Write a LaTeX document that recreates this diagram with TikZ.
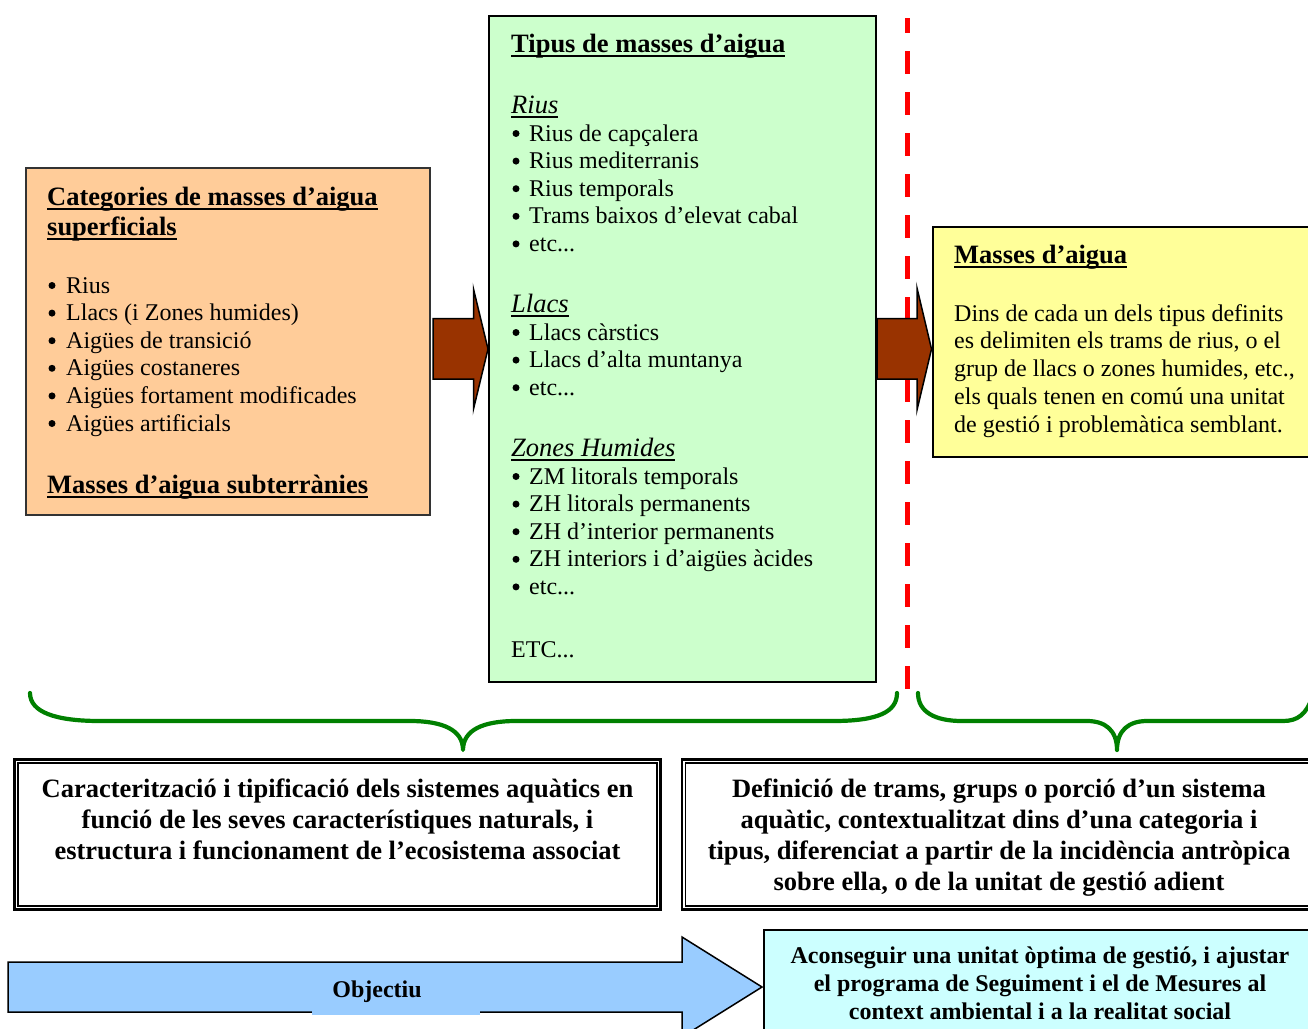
\documentclass[tikz,border=0pt]{standalone}
\usepackage{fontspec}
\setmainfont{Liberation Serif}
\newsavebox\ulbox
\newcommand\ulx[1]{\sbox\ulbox{#1}\rlap{\rule[-5pt]{\wd\ulbox}{2pt}}\usebox\ulbox}
\newcommand\etcdots{etc...}
\definecolor{orangefill}{HTML}{FFCC99}
\definecolor{greenfill}{HTML}{CCFFCC}
\definecolor{yellowfill}{HTML}{FFFF99}
\definecolor{cyanfill}{HTML}{CCFFFF}
\definecolor{bluefill}{HTML}{99CCFF}
\definecolor{brownfill}{HTML}{993300}
\definecolor{bracegreen}{HTML}{008000}
\tikzset{
  boxnode/.style={rectangle, draw=black, line width=1.5pt, inner sep=0pt, outer sep=0pt},
  txt/.style={anchor=base west, inner sep=0pt, font=\fontsize{24}{27.6}\selectfont},
  bulnode/.style={circle, fill=black, inner sep=0pt, minimum size=7pt},
  ttl/.style={anchor=base west, inner sep=0pt, font=\fontsize{26.5}{30}\selectfont\bfseries},
  sub/.style={anchor=base west, inner sep=0pt, font=\fontsize{26.5}{30}\selectfont\itshape},
  bigbold/.style={anchor=base, inner sep=0pt, font=\fontsize{26.5}{31}\selectfont\bfseries},
  smallbold/.style={anchor=base, inner sep=0pt, font=\fontsize{24}{28}\selectfont\bfseries},
  bracepath/.style={draw=bracegreen, line width=4.2pt, line cap=round, line join=round},
  fatarrow/.style={draw=black, line width=1.5pt, line join=miter}
}
\begin{document}
\begin{tikzpicture}[x=1pt,y=-1pt]
\useasboundingbox (0,0) rectangle (1308,1028);
\clip (0,0) rectangle (1308,1028);
\fill[white] (0,0) rectangle (1308,1028);

% red dashed separator
\draw[red, line width=5pt, dash pattern=on 23pt off 18pt, dash phase=8pt] (907,18) -- (907,695);

% main boxes
\node[boxnode, draw=black!80, fill=orangefill, minimum width=404pt, minimum height=347pt] (cat) at (228,341.5) {};
\node[boxnode, fill=greenfill, minimum width=387pt, minimum height=666pt] (tip) at (682.5,349) {};
\node[boxnode, fill=yellowfill, minimum width=387pt, minimum height=230pt] (mas) at (1126.5,342) {};

% brown arrows
\draw[fatarrow, fill=brownfill] (433,318.5) -- (473.5,318.5) -- (473.5,289) -- (488,349) -- (473.5,409) -- (473.5,379) -- (433,379) -- cycle;
\draw[fatarrow, fill=brownfill] (877,318.5) -- (917,318.5) -- (917,288) -- (931.5,349) -- (917,410) -- (917,379) -- (877,379) -- cycle;

% orange box text
\node[ttl] (cat1) at (47,205) {\ulx{Categories de masses d’aigua}};
\node[ttl] (cat2) at (47,235) {\ulx{superficials}};
\foreach \t [count=\i from 0] in {Rius, Llacs (i Zones humides), Aigües de transició, Aigües costaneres, Aigües fortament modificades, Aigües artificials}{
  \node[bulnode] at (52,285.5+27.6*\i) {};
  \node[txt] at (66,293+27.6*\i) {\t};
}
\node[ttl] (cat3) at (47,493) {\ulx{Masses d’aigua subterrànies}};

% green box text
\node[ttl] (tip1) at (511,52) {\ulx{Tipus de masses d’aigua}};
\node[sub] (rius) at (511,113) {\ulx{Rius}};
\foreach \t [count=\i from 0] in {Rius de capçalera, Rius mediterranis, Rius temporals, Trams baixos d’elevat cabal, \etcdots}{
  \node[bulnode] at (516,133.5+27.6*\i) {};
  \node[txt] at (529,141+27.6*\i) {\t};
}
\node[sub] (llacs) at (511,312) {\ulx{Llacs}};
\foreach \t [count=\i from 0] in {Llacs càrstics, Llacs d’alta muntanya, \etcdots}{
  \node[bulnode] at (516,332.5+27.6*\i) {};
  \node[txt] at (529,340+27.6*\i) {\t};
}
\node[sub] (zh) at (511,456) {\ulx{Zones Humides}};
\foreach \t [count=\i from 0] in {ZM litorals temporals, ZH litorals permanents, ZH d’interior permanents, ZH interiors i d’aigües àcides, \etcdots}{
  \node[bulnode] at (516,476.5+27.6*\i) {};
  \node[txt] at (529,484+27.6*\i) {\t};
}
\node[txt] (etc) at (511,657) {ETC...};

% yellow box text
\node[ttl] (mas1) at (954,263) {\ulx{Masses d’aigua}};
\foreach \t [count=\i from 0] in {Dins de cada un dels tipus definits, {es delimiten els trams de rius, o el}, {grup de llacs o zones humides, etc.,}, els quals tenen en comú una unitat, de gestió i problemàtica semblant.}{
  \node[txt] at (954,321+27.8*\i) {\t};
}

% braces
\draw[bracepath] (30,693) .. controls (30,712) and (55,721) .. (100,721) -- (410,721)
  .. controls (443,721) and (463,730) .. (463,750)
  .. controls (463,730) and (483,721) .. (516,721) -- (833,721)
  .. controls (878,721) and (897,712) .. (897,693);
\draw[bracepath] (918,693) .. controls (918,712) and (935,721) .. (962,721) -- (1087,721)
  .. controls (1105,721) and (1117,730) .. (1117,750)
  .. controls (1117,730) and (1129,721) .. (1147,721) -- (1283,721)
  .. controls (1298,721) and (1306,714) .. (1312,698);

% bottom double-framed boxes
\node[rectangle, draw=black, line width=2.4pt, minimum width=646pt, minimum height=150pt, inner sep=0pt] (car) at (337.5,834.5) {};
\draw[line width=1.4pt] ([shift={(4.6,4.6)}]car.north west) rectangle ([shift={(-4.6,-4.6)}]car.south east);
\node[rectangle, draw=black, line width=2.4pt, minimum width=640pt, minimum height=150pt, inner sep=0pt] (def) at (1002,834.5) {};
\draw[line width=1.4pt] ([shift={(4.6,4.6)}]def.north west) rectangle ([shift={(-4.6,-4.6)}]def.south east);

\foreach \t [count=\i from 0] in {Caracterització i tipificació dels sistemes aquàtics en, {funció de les seves característiques naturals, i}, estructura i funcionament de l’ecosistema associat}{
  \node[bigbold] at (337.5,797+31*\i) {\t};
}
\foreach \t [count=\i from 0] in {{Definició de trams, grups o porció d’un sistema}, {aquàtic, contextualitzat dins d’una categoria i}, {tipus, diferenciat a partir de la incidència antròpica}, {sobre ella, o de la unitat de gestió adient}}{
  \node[bigbold] at (999,797+31*\i) {\t};
}

% objective arrow and box
\node[boxnode, fill=cyanfill, minimum width=556pt, minimum height=110pt] (aco) at (1042,985) {};
\draw[fatarrow, fill=bluefill] (8,962) -- (682,962) -- (682,937) -- (762,987) -- (682,1037) -- (682,1012) -- (8,1012) -- cycle;
\fill[bluefill] (312,1008) rectangle (480,1015);
\node[smallbold] (obj) at (377,997) {Objectiu};
\foreach \t [count=\i from 0] in {{Aconseguir una unitat òptima de gestió, i ajustar}, el programa de Seguiment i el de Mesures al, context ambiental i a la realitat social}{
  \node[smallbold] at (1040,963+28*\i) {\t};
}
\end{tikzpicture}
\end{document}
